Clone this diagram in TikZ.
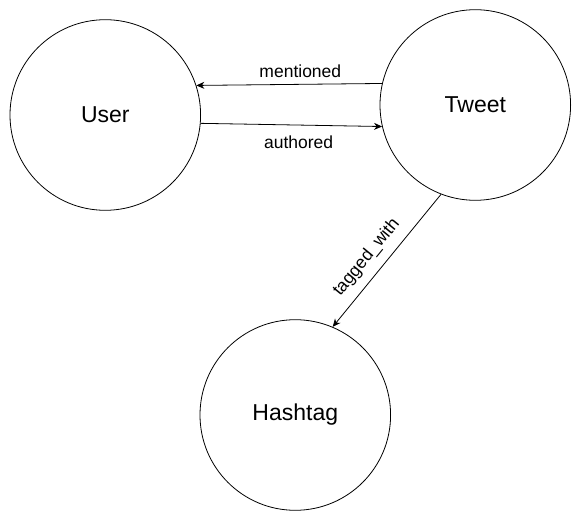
\documentclass[tikz,border=0pt]{standalone}
\usepackage{fontspec}
\setmainfont{Liberation Sans}
\usetikzlibrary{arrows.meta}
\begin{document}
\begin{tikzpicture}[x=1pt, y=-1pt,
    entity/.style={draw, circle, minimum size=190.6pt, inner sep=0pt, line width=0.8pt, font=\fontsize{23}{28}\selectfont},
    rel/.style={line width=0.8pt, -{Stealth[length=8pt, width=7pt, inset=2.5pt]}},
    lbl/.style={inner sep=0pt, font=\fontsize{17.5}{21}\selectfont}]
    \useasboundingbox (0,0) rectangle (581,521);
    \node[entity] (user) at (105.3,115) {User};
    \node[entity] (tweet) at (475.3,105) {Tweet};
    \node[entity] (hashtag) at (295.3,415) {Hashtag};
    \draw[rel] (tweet.167.45) -- node[lbl, pos=0.44, above=6pt] {mentioned} (user.18.8);
    \draw[rel] (user.-5.6) -- node[lbl, pos=0.54, below=10pt] {authored} (tweet.193.2);
    \draw[rel] (tweet.249.7) -- node[lbl, pos=0.56, sloped, above=9pt] {tagged\_with} (hashtag.67.7);
\end{tikzpicture}
\end{document}
